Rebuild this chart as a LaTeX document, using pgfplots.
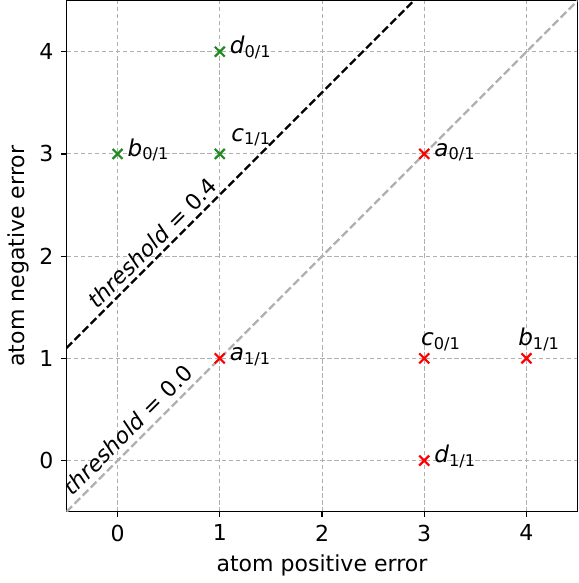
\documentclass[border=0pt]{standalone}
\usepackage{fontspec}
\setmainfont{DejaVu Sans}
\usepackage{pgfplots}
\usepackage{pgfplotstable}
\pgfplotsset{compat=1.18}
\definecolor{mgreen}{RGB}{34,139,34}
\definecolor{lgray}{RGB}{176,176,176}
\pgfplotstableread{
x y dx dy lab
1 4 4.4 -1 d01
0 3 4.4 -1 b01
3 3 4.4 -1 a01
1 1 4.4 -1 a11
3 0 4.4 -1 d11
1 3 5.1 5.8 c11
3 1 -1.6 5.8 c01
4 1 -3.9 5.8 b11
}\labels
\begin{document}
\begin{tikzpicture}
\begin{axis}[
  scale only axis,
  width=232pt, height=232pt,
  xmin=-0.5, xmax=4.5, ymin=-0.5, ymax=4.5,
  xtick={0,1,2,3,4}, ytick={0,1,2,3,4},
  tick align=outside, major tick length=2.4pt,
  tick style={black, line width=0.55pt},
  axis line style={line width=0.55pt},
  xtick pos=bottom, ytick pos=left,
  grid=major,
  major grid style={dash pattern=on 2pt off 1.2pt, lgray, line width=0.45pt},
  /pgf/number format/assume math mode=true,
  ticklabel style={font=\fontsize{10}{12}\selectfont},
  label style={font=\fontsize{10}{12}\selectfont},
  xlabel={atom positive error},
  ylabel={atom negative error},
  xlabel style={yshift=1pt},
  ylabel style={yshift=-2pt},
  clip=true,
]
\addplot[lgray, line width=1.05pt, dash pattern=on 3.6pt off 1.6pt] coordinates {(-0.5,-0.5) (4.5,4.5)};
\addplot[black, line width=1.05pt, dash pattern=on 3.6pt off 1.6pt] coordinates {(-0.5,1.1) (2.9,4.5)};
\addplot[only marks, mark=x, mark size=3.2pt, mgreen, line width=1pt] coordinates {(1,4) (0,3) (1,3)};
\addplot[only marks, mark=x, mark size=3.2pt, red, line width=1pt] coordinates {(3,3) (1,1) (3,1) (4,1) (3,0)};
\addplot[draw=none, mark=none,
  visualization depends on={\thisrow{dx} \as \dx},
  visualization depends on={\thisrow{dy} \as \dy},
  nodes near coords={%
    \ifnum\pdfstrcmp{\pgfplotspointmeta}{d01}=0 {\itshape d}\textsubscript{0/1}\fi
    \ifnum\pdfstrcmp{\pgfplotspointmeta}{b01}=0 {\itshape b}\textsubscript{0/1}\fi
    \ifnum\pdfstrcmp{\pgfplotspointmeta}{a01}=0 {\itshape a}\textsubscript{0/1}\fi
    \ifnum\pdfstrcmp{\pgfplotspointmeta}{a11}=0 {\itshape a}\textsubscript{1/1}\fi
    \ifnum\pdfstrcmp{\pgfplotspointmeta}{d11}=0 {\itshape d}\textsubscript{1/1}\fi
    \ifnum\pdfstrcmp{\pgfplotspointmeta}{c11}=0 {\itshape c}\textsubscript{1/1}\fi
    \ifnum\pdfstrcmp{\pgfplotspointmeta}{c01}=0 {\itshape c}\textsubscript{0/1}\fi
    \ifnum\pdfstrcmp{\pgfplotspointmeta}{b11}=0 {\itshape b}\textsubscript{1/1}\fi
  },
  point meta=explicit symbolic,
  nodes near coords style={anchor=base west, inner sep=0pt, xshift=\dx pt, yshift=\dy pt, font=\fontsize{10.5}{12}\selectfont},
] table[x=x, y=y, meta=lab] {\labels};
\node[rotate=45, font=\fontsize{10}{12}\selectfont, inner sep=0pt] at (axis cs:0.34,2.13) {{\itshape threshold} = 0.4};
\node[rotate=45, font=\fontsize{10}{12}\selectfont, inner sep=0pt] at (axis cs:0.1,0.3) {{\itshape threshold} = 0.0};
\end{axis}
\end{tikzpicture}
\end{document}
